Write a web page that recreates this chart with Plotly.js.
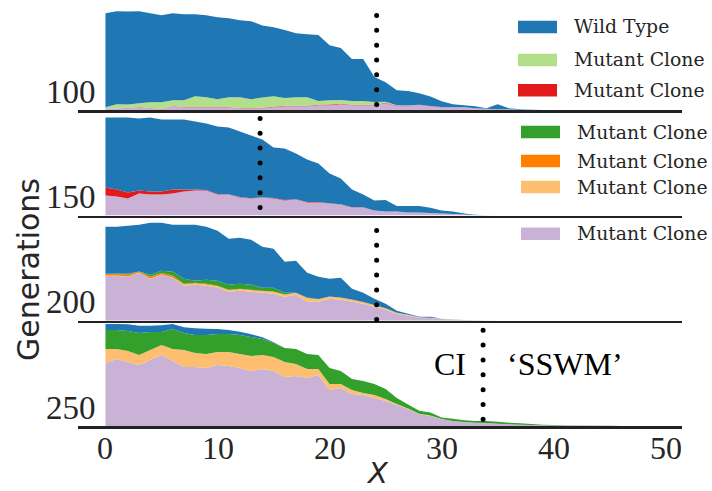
<!DOCTYPE html>
<html><head><meta charset="utf-8">
<script src="https://cdn.plot.ly/plotly-3.0.1.min.js"></script>
<style>
html,body{margin:0;padding:0;background:#fff;}
#chart{width:712px;height:491px;}
.shapelayer path{stroke-linecap:round;}
</style>
</head><body><div id="chart"></div>
<script>
// ---------------- DATA ----------------
const X = [0,1,2,3,4,5,6,7,8,9,10,11,12,13,14,15,16,17,18,19,20,21,22,23,24,25,26,27,28,29,30,31,32,33,34,35,36,37,38,39,40,41,42,43,44,45,46,47,48,49];

const panelLabels = ['100','150','200','250'];
const cutoffs = [24.2, 13.8, 24.2, 33.7];
const legendLabels = ['Wild Type','Mutant Clone','Mutant Clone','Mutant Clone','Mutant Clone','Mutant Clone','Mutant Clone'];
const xTicks = [0,10,20,30,40,50];

// panel 1 (generation 100)
const p1_purple = [.02,.02,.02,.03,.02,.01,.04,.03,.03,.03,.03,.03,.02,.02,.02,.03,.04,.04,.04,.05,.05,.06,.05,.05,.05,.07,.04,.04,.05,.04,.03,.03,.03,.02,.015,.01,.01,.005,.003,.002,0,0,0,0,0,0,0,0,0,0];
const p1_red    = [0,0,.002,.002,.003,.003,.003,.003,.003,.003,.003,.003,.003,.003,.004,.005,.006,.005,.005,.006,.007,.006,.006,.006,.006,.005,.004,.003,.003,.003,.002,0,0,0,0,0,0,0,0,0,0,0,0,0,0,0,0,0,0,0];
const p1_lgreen = [.01,.04,.036,.038,.057,.067,.057,.067,.107,.097,.077,.097,.107,.087,.104,.105,.076,.085,.085,.036,.043,.036,.036,.036,.026,.01,.007,.004,.002,0,0,0,0,0,0,0,0,0,0,0,0,0,0,0,0,0,0,0,0,0];
const p1_blue   = [.94,.93,.93,.92,.89,.87,.87,.86,.82,.82,.82,.79,.77,.78,.72,.69,.68,.64,.63,.66,.55,.52,.42,.42,.25,.195,.149,.145,.115,.095,.057,.03,.02,.02,.005,.05,.01,.005,.002,0,0,0,0,0,0,0,0,0,0,0];

// panel 2 (generation 150)
const p2_purple = [.20,.19,.17,.22,.21,.21,.22,.24,.25,.25,.21,.21,.18,.17,.18,.17,.15,.16,.13,.13,.12,.11,.08,.08,.05,.04,.04,.03,.03,.025,.02,.015,.01,.005,.003,0,0,0,0,0,0,0,0,0,0,0,0,0,0,0];
const p2_red    = [.08,.07,.06,.03,.03,.03,.04,.02,.01,.005,.005,.003,.005,.003,.003,.005,.005,.003,.005,.005,.003,.003,.003,.003,0,0,0,0,0,0,0,0,0,0,0,0,0,0,0,0,0,0,0,0,0,0,0,0,0,0];
const p2_blue   = [.70,.72,.75,.72,.74,.72,.70,.70,.68,.665,.675,.667,.655,.627,.577,.505,.515,.457,.425,.385,.297,.257,.177,.127,.10,.115,.055,.065,.065,.052,.03,.025,.01,.002,0,0,0,0,0,0,0,0,0,0,0,0,0,0,0,0];

// panel 3 (generation 200)
const p3_purple  = [.45,.45,.44,.48,.42,.46,.43,.35,.36,.35,.33,.29,.30,.29,.28,.27,.24,.26,.19,.19,.22,.21,.19,.17,.14,.11,.07,.05,.03,.027,.017,.013,.007,.004,.002,0,0,0,0,0,0,0,0,0,0,0,0,0,0,0];
const p3_lorange = [.003,.003,.003,.003,.003,.003,.003,.012,.012,.012,.015,.015,.015,.015,.015,.02,.02,.017,.035,.025,.02,.02,.02,.015,.015,.012,.01,.008,.006,.004,.002,.001,0,0,0,0,0,0,0,0,0,0,0,0,0,0,0,0,0,0];
const p3_orange  = [.015,.015,.02,.01,.02,.015,.02,.008,.008,.008,.005,.005,.005,.005,.005,.003,.003,.003,.003,.003,.002,.002,.002,.002,.002,.002,.001,.001,0,0,0,0,0,0,0,0,0,0,0,0,0,0,0,0,0,0,0,0,0,0];
const p3_green   = [.002,.005,.007,0,.017,.022,.037,.05,.02,.04,.05,.05,.05,.05,.03,.037,.017,0,.005,0,0,0,0,0,0,0,0,0,0,0,0,0,0,0,0,0,0,0,0,0,0,0,0,0,0,0,0,0,0,0];
const p3_blue    = [.47,.467,.48,.467,.52,.48,.47,.54,.56,.53,.50,.46,.46,.45,.41,.39,.31,.32,.247,.222,.178,.198,.108,.093,.063,.046,.019,.011,.004,.009,.001,0,0,0,0,0,0,0,0,0,0,0,0,0,0,0,0,0,0,0];

// panel 4 (generation 250)
const p4_purple  = [.63,.67,.64,.61,.66,.71,.65,.59,.59,.58,.61,.60,.58,.55,.57,.55,.49,.50,.48,.51,.36,.38,.32,.31,.28,.25,.21,.17,.12,.10,.067,.05,.04,.033,.03,.023,.017,.013,.01,.007,.005,.004,.003,.002,.001,0,0,0,0,0];
const p4_lorange = [.14,.10,.11,.10,.10,.10,.12,.17,.14,.14,.13,.14,.14,.15,.14,.14,.15,.12,.09,.06,.06,.04,.04,.02,.03,.02,.01,.005,.003,.005,.002,0,0,0,0,0,0,0,0,0,0,0,0,0,0,0,0,0,0,0];
const p4_green   = [.19,.19,.20,.22,.18,.13,.20,.17,.18,.19,.18,.18,.19,.19,.16,.14,.14,.15,.15,.14,.16,.13,.11,.12,.11,.10,.06,.04,.03,.03,.016,.023,.017,.017,.02,.02,.016,.014,.01,.006,.005,.004,.003,.002,.002,.002,.001,.001,0,0];
const p4_blue    = [.06,.06,.067,.073,.063,.067,.05,.057,.067,.063,.05,.04,.033,.027,.017,.007,0,0,0,0,0,0,0,0,0,0,0,0,0,0,0,0,0,0,0,0,0,0,0,0,0,0,0,0,0,0,0,0,0,0];

// ---------------- STYLE ----------------
const C = {blue:'#1f78b4', lgreen:'#b2df8a', red:'#e31a1c', green:'#33a02c', orange:'#ff7f00', lorange:'#fdbf6f', purple:'#cab2d6'};
const legendColors = [C.blue, C.lgreen, C.red, C.green, C.orange, C.lorange, C.purple];

// stacks bottom -> top
const panels = [
  [[C.purple,p1_purple],[C.red,p1_red],[C.lgreen,p1_lgreen],[C.blue,p1_blue]],
  [[C.purple,p2_purple],[C.red,p2_red],[C.blue,p2_blue]],
  [[C.purple,p3_purple],[C.lorange,p3_lorange],[C.orange,p3_orange],[C.green,p3_green],[C.blue,p3_blue]],
  [[C.purple,p4_purple],[C.lorange,p4_lorange],[C.green,p4_green],[C.blue,p4_blue]]
];

const M = {l:78, r:30, t:5, b:65};
const W = 712, H = 491;
const PW = W - M.l - M.r, PH = H - M.t - M.b;
const px2x = p => (p - M.l) / PW;
const px2y = p => (H - M.b - p) / PH;

const traces = [];
panels.forEach((layers, i) => {
  const xa = i === 0 ? 'x' : 'x' + (i + 1);
  const ya = i === 0 ? 'y' : 'y' + (i + 1);
  layers.forEach(([col, vals]) => {
    traces.push({x: X, y: vals, xaxis: xa, yaxis: ya, stackgroup: 's' + i, mode: 'none',
      fillcolor: col, line: {width: 0}, hoverinfo: 'skip', showlegend: false});
  });
});

const layout = {
  width: W, height: H, margin: M, paper_bgcolor: '#fff', plot_bgcolor: 'rgba(0,0,0,0)',
  showlegend: false, font: {family: 'Liberation Serif', color: '#262626'},
  shapes: [], annotations: []
};
const domains = [[0.75,1],[0.5,0.75],[0.25,0.5],[0,0.25]];
domains.forEach((d, i) => {
  const n = i === 0 ? '' : (i + 1);
  layout['xaxis' + n] = {domain: [0,1], range: [-2.45, 51.45], anchor: 'y' + n, showline: true,
    linecolor: '#222222', linewidth: 2.5, showgrid: false, zeroline: false, ticks: '',
    showticklabels: false, layer: 'above traces', fixedrange: true};
  if (i > 0) layout['xaxis' + n].matches = 'x';
  layout['yaxis' + n] = {domain: d, range: [0, 1.0525], anchor: 'x' + n, showline: false, showgrid: false,
    zeroline: false, showticklabels: false, ticks: '', fixedrange: true};
});

// x tick labels on the bottom panel
xTicks.forEach(t => {
  layout.annotations.push({text: String(t), xref: 'x4', yref: 'paper', x: t, y: px2y(448),
    xanchor: 'center', yanchor: 'middle', showarrow: false,
    font: {family: 'Liberation Serif', size: 32, color: '#262626'}});
});

// dotted vertical lines (bottom start / top end in panel-domain fraction)
const dotSpan = [[0.054, 0.915], [0.076, 0.93], [0.011, 0.87], [0.063, 0.91]];
cutoffs.forEach((cx, i) => {
  const n = i === 0 ? '' : (i + 1);
  layout.shapes.push({type: 'line', xref: 'x' + n, yref: 'y' + n + ' domain', x0: cx, x1: cx,
    y0: dotSpan[i][0], y1: dotSpan[i][1], line: {color: '#000', width: 5, dash: '0px,14.85px'}, layer: 'above'});
});

// panel labels (generation)
panelLabels.forEach((t, i) => {
  const n = i === 0 ? '' : (i + 1);
  layout.annotations.push({text: t, xref: 'paper', yref: 'y' + n + ' domain', x: px2x(98), y: 18.5 / (PH / 4),
    xanchor: 'right', yanchor: 'middle', showarrow: false,
    font: {family: 'Liberation Serif', size: 33, color: '#262626'}});
});

// legend
const legendRows = [
  {sx0: 518, sx1: 557, tx: 574.3, cy: 27},
  {sx0: 518, sx1: 557, tx: 574.3, cy: 60},
  {sx0: 518, sx1: 557, tx: 574.3, cy: 90.3},
  {sx0: 521, sx1: 560, tx: 576.7, cy: 132},
  {sx0: 521, sx1: 560, tx: 576.7, cy: 161},
  {sx0: 521, sx1: 560, tx: 576.7, cy: 187},
  {sx0: 521, sx1: 560, tx: 576.7, cy: 233.7}
];
legendLabels.forEach((lab, i) => {
  const r = legendRows[i];
  layout.shapes.push({type: 'rect', xref: 'paper', yref: 'paper', x0: px2x(r.sx0), x1: px2x(r.sx1),
    y0: px2y(r.cy + 6.3), y1: px2y(r.cy - 6.3), fillcolor: legendColors[i], line: {width: 0}, layer: 'above'});
  layout.annotations.push({text: lab, xref: 'paper', yref: 'paper', x: px2x(r.tx - 1), y: px2y(r.cy),
    xanchor: 'left', yanchor: 'middle', showarrow: false, borderpad: 0,
    font: {family: 'DejaVu Serif', size: 18.8, color: '#262626'}});
});

// axis titles & text
layout.annotations.push({text: 'Generations', xref: 'paper', yref: 'paper', x: px2x(28), y: px2y(270),
  textangle: -90, showarrow: false, xanchor: 'center', yanchor: 'middle',
  font: {family: 'DejaVu Sans', size: 30, color: '#262626'}});
layout.annotations.push({text: '<i>X</i>', xref: 'paper', yref: 'paper', x: px2x(377), y: px2y(490.5),
  showarrow: false, xanchor: 'center', yanchor: 'bottom', borderpad: 0,
  font: {family: 'DejaVu Sans', size: 29, color: '#262626'}});
layout.annotations.push({text: 'CI', xref: 'paper', yref: 'paper', x: px2x(450), y: px2y(364),
  showarrow: false, xanchor: 'center', yanchor: 'middle',
  font: {family: 'Liberation Serif', size: 32, color: '#000'}});
layout.annotations.push({text: '\u2018SSWM\u2019', xref: 'paper', yref: 'paper', x: px2x(565), y: px2y(364),
  showarrow: false, xanchor: 'center', yanchor: 'middle',
  font: {family: 'Liberation Serif', size: 32, color: '#000'}});

Plotly.newPlot('chart', traces, layout, {staticPlot: true, displayModeBar: false});
</script></body></html>
